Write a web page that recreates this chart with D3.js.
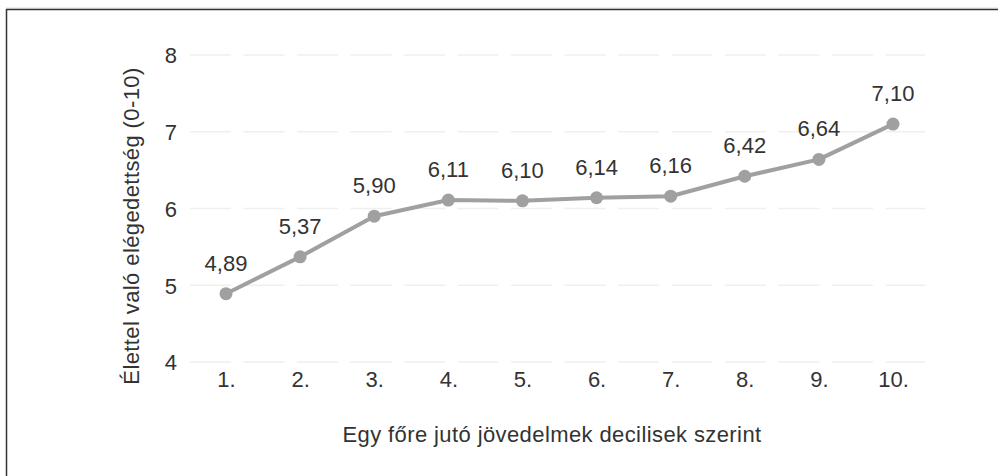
<!DOCTYPE html>
<html><head><meta charset="utf-8">
<script src="https://cdn.jsdelivr.net/npm/d3@7"></script>
<style>body{margin:0;background:#fff}svg{display:block}text{font-family:"Liberation Sans",Arial,sans-serif}</style>
</head><body>
<svg id="c" width="998" height="476"></svg>
<script>
const categories = ["1.","2.","3.","4.","5.","6.","7.","8.","9.","10."];
const values = [4.89,5.37,5.90,6.11,6.10,6.14,6.16,6.42,6.64,7.10];
const valueLabels = ["4,89","5,37","5,90","6,11","6,10","6,14","6,16","6,42","6,64","7,10"];
const yTicks = [4,5,6,7,8];
const xTitle = "Egy főre jutó jövedelmek decilisek szerint";
const yTitle = "Élettel való elégedettség (0-10)";

const FS = 22;
const svg = d3.select("#c");
// frame lines (top & left)
svg.append("line").attr("x1",6).attr("x2",998).attr("y1",8).attr("y2",8).attr("stroke","#ddd").attr("stroke-width",1);
svg.append("line").attr("x1",6).attr("x2",998).attr("y1",9.5).attr("y2",9.5).attr("stroke","#333").attr("stroke-width",1.5);
svg.append("line").attr("x1",6.5).attr("x2",6.5).attr("y1",9).attr("y2",476).attr("stroke","#333").attr("stroke-width",1.5);

const x = d3.scalePoint().domain(categories).range([226,893]);
const y = d3.scaleLinear().domain([4,8]).range([362,55]);

// gridlines
const grid = svg.append("g");
grid.selectAll("line").data(yTicks).join("line")
  .attr("x1",190).attr("x2",925)
  .attr("y1",d=>y(d)).attr("y2",d=>y(d))
  .attr("stroke","#efefef").attr("stroke-width",1.5)
  .attr("stroke-dasharray","41 12.5");

// y axis
const yAxis = d3.axisLeft(y).tickValues(yTicks).tickSize(0).tickPadding(0).tickFormat(d3.format("d"));
const yg = svg.append("g").attr("transform","translate(177,0)").call(yAxis);
yg.select(".domain").remove();
yg.attr("font-size",FS).attr("font-family","Liberation Sans, Arial, sans-serif");
yg.selectAll("text").attr("fill","#333").attr("dy","0.36em");

// x axis
const xAxis = d3.axisBottom(x).tickSize(0).tickPadding(0);
const xg = svg.append("g").attr("transform","translate(0,387)").call(xAxis);
xg.select(".domain").remove();
xg.attr("font-size",FS).attr("font-family","Liberation Sans, Arial, sans-serif");
xg.selectAll("text").attr("fill","#333").attr("y",0).attr("dy",0);

// titles
svg.append("text").attr("x",552).attr("y",442).attr("text-anchor","middle")
  .attr("font-size",FS).attr("letter-spacing",0.4).attr("fill","#333").text(xTitle);
svg.append("text").attr("transform","translate(139,226) rotate(-90)").attr("text-anchor","middle")
  .attr("font-size",FS).attr("letter-spacing",0.4).attr("fill","#333").text(yTitle);

// line
const line = d3.line().x((d,i)=>x(categories[i])).y(d=>y(d));
svg.append("path").datum(values).attr("d",line).attr("fill","none")
  .attr("stroke","#a0a0a0").attr("stroke-width",4).attr("stroke-linejoin","round");
svg.selectAll("circle.pt").data(values).join("circle").attr("class","pt")
  .attr("cx",(d,i)=>x(categories[i])).attr("cy",d=>y(d)).attr("r",6.5).attr("fill","#a0a0a0");
svg.selectAll("text.lbl").data(values).join("text").attr("class","lbl")
  .attr("x",(d,i)=>x(categories[i])).attr("y",d=>y(d)-23)
  .attr("text-anchor","middle").attr("font-size",FS).attr("fill","#333")
  .text((d,i)=>valueLabels[i]);
</script>
</body></html>
